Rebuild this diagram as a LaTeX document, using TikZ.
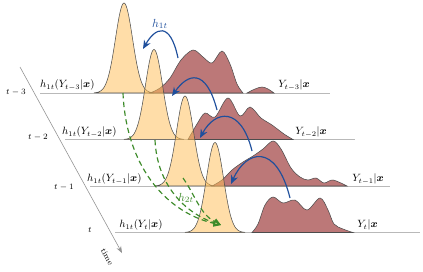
\documentclass[tikz,border=0pt]{standalone}
\usepackage{amsmath,amssymb,bm}
\usepackage{tikz}
\usetikzlibrary{arrows.meta,positioning,calc}
\definecolor{peach}{HTML}{FFBE58}
\definecolor{wine}{HTML}{AD5A5A}
\definecolor{hopblue}{HTML}{1F4F9C}
\definecolor{hopgreen}{HTML}{3D8B2A}
\newcommand{\hump}[2]{\draw[gauss] plot[domain=-30:30,samples=61]
  ({#1+\x},{#2-90*exp(-(\x*\x)/144.5)}) -- cycle;}
\tikzset{
  >={Stealth[length=2.2mm]},
  baseln/.style={gray!55,line width=0.6pt},
  gauss/.style={draw=black!70,line width=0.45pt,fill=peach,fill opacity=0.52},
  dens/.style={draw=black!70,line width=0.45pt,fill=wine,fill opacity=0.82},
  hop/.style={-{Stealth[length=2.6mm,width=2.2mm]},hopblue,line width=1pt},
  hopdash/.style={-{Triangle[open,length=2.2mm,width=2mm]},hopgreen,
    line width=1pt,dash pattern=on 4.5pt off 3pt},
  rowlbl/.style={font=\small,inner sep=1pt},
  ticklbl/.style={font=\scriptsize,inner sep=1pt},
}

\begin{document}
\begin{tikzpicture}[x=0.03cm,y=-0.03cm]
  \useasboundingbox (0,0) rectangle (423,271);
  % time axis
  \coordinate (ax0) at (20,67);
  \coordinate (ax1) at (122,253);
  \draw[-{Stealth[length=2mm]},gray!85,line width=0.5pt] (ax0) -- (ax1);
  \node[font=\scriptsize,rotate=-61.5,inner sep=0.5pt] (timelbl) at (107,257) {time};
  \node[ticklbl] (t3) at (16,92) {$t-3$};
  \node[ticklbl] (t2) at (38,137) {$t-2$};
  \node[ticklbl] (t1) at (64,187) {$t-1$};
  \node[ticklbl] (t0) at (90,230) {$t$};

  % row t-3
  \draw[baseln] (40,93) -- (330,93);
  \hump{124}{93}
  \draw[dens] plot[smooth,tension=0.55] coordinates {(150,93) (160,88) (170,78)
    (181,60) (193,50) (203,57) (212,63) (222,51) (230,64) (237,84) (243,93)} -- cycle;
  \draw[dens] plot[smooth,tension=0.6] coordinates {(247,93) (255,89) (262,87)
    (268,89) (274,93)} -- cycle;
  \node[rowlbl,anchor=south east] (h3) at (96,92) {$h_{1t}(Y_{t-3}|\bm{x})$};
  \node[rowlbl,anchor=south west] (y3) at (277,92) {$Y_{t-3}|\bm{x}$};

  % row t-2
  \draw[baseln] (65,139.5) -- (355,139.5);
  \hump{154}{139.5}
  \draw[dens] plot[smooth,tension=0.55] coordinates {(188,139.5) (197,124) (205,113)
    (215,117) (228,98) (240,116) (250,107) (261,118) (272,125) (284,134) (293,139.5)} -- cycle;
  \node[rowlbl,anchor=south east] (h2) at (118,139) {$h_{1t}(Y_{t-2}|\bm{x})$};
  \node[rowlbl,anchor=south west] (y2) at (294,139) {$Y_{t-2}|\bm{x}$};

  % row t-1
  \draw[baseln] (90,186) -- (390,186);
  \hump{185}{186}
  \draw[dens] plot[smooth,tension=0.55] coordinates {(212,186) (222,180) (232,170)
    (243,162) (253,156) (263,149) (273,141) (281,149) (291,168) (300,177) (308,180)
    (316,178) (324,183) (333,180) (347,186)} -- cycle;
  \node[rowlbl,anchor=south east] (h1) at (143,186) {$h_{1t}(Y_{t-1}|\bm{x})$};
  \node[rowlbl,anchor=south west] (y1) at (351,186) {$Y_{t-1}|\bm{x}$};

  % row t
  \draw[baseln] (115,232.5) -- (420,232.5);
  \hump{215}{232.5}
  \draw[dens] plot[smooth,tension=0.55] coordinates {(252,232.5) (258,224) (265,205)
    (273,197) (283,203) (295,200) (307,210) (320,198) (328,210) (334,224) (343,229)
    (353,232.5)} -- cycle;
  \node[rowlbl,anchor=south east] (h0) at (164,232) {$h_{1t}(Y_t|\bm{x})$};
  \node[rowlbl,anchor=south west] (y0) at (356,232) {$Y_t|\bm{x}$};

  % h1t hops
  \coordinate (a1s) at (178,58);  \coordinate (a1e) at (143,49);
  \coordinate (a2s) at (217,110); \coordinate (a2e) at (172,96);
  \coordinate (a3s) at (252,151); \coordinate (a3e) at (200,138);
  \coordinate (a4s) at (290,198); \coordinate (a4e) at (231,184);
  \draw[hop] (a1s) .. controls (170,20) and (155,28) .. (a1e);
  \draw[hop] (a2s) .. controls (206,68) and (188,73) .. (a2e);
  \draw[hop] (a3s) .. controls (241,106) and (215,110) .. (a3e);
  \draw[hop] (a4s) .. controls (276,142) and (246,150) .. (a4e);
  \node[font=\normalsize,text=hopblue] (h1t) at (160,24) {$h_{1t}$};

  % h2t hops
  \coordinate (g1s) at (123,93);
  \coordinate (g2s) at (155,140);
  \coordinate (g3s) at (183,178);
  \coordinate (gend) at (221,225);
  \draw[hopdash] (g1s) .. controls (126,165) and (165,212) .. (gend);
  \draw[hopdash] (g2s) .. controls (157,185) and (185,213) .. (gend);
  \draw[hopdash] (g3s) .. controls (195,195) and (200,214) .. (gend);
  \node[font=\normalsize,text=hopgreen] (h2t) at (186,198) {$h_{2t}$};
\end{tikzpicture}
\end{document}
